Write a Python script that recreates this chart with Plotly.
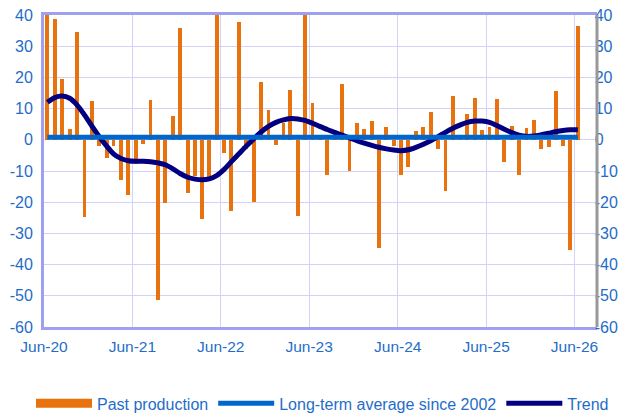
import pandas as pd
import plotly.graph_objects as go

# ---------------- data ----------------
START = "2020-06-01"
past_production = [
    45, 38.7, 19.6, 3.5, 34.6, -24.8, 12.3, -2.1, -5.8, -2.1, -13, -17.6,
    -7.7, -1.5, 12.7, -51.2, -20.1, 7.6, 35.7, -17.1, -11.5, -25.4, -12, 45,
    -4.2, -22.8, 37.6, -3, -19.8, 18.5, 9.7, -1.6, 5.3, 16, -24.4, 45,
    11.7, 0.8, -11.3, 2, 18, -9.9, 5.4, 3.5, 6, -34.8, 4, -2.1,
    -11.3, -8.6, 2.8, 4, 9, -3, -16.5, 14.2, 1.5, 8.3, 13.5, 3.2,
    4, 13, -7, 4.3, -11.3, 3.8, 6.5, -3, -2.4, 15.6, -2, -35.3,
    36.5,
]
trend = [
    12, 13.5, 14, 13.3, 11.2, 8, 4.5, 1, -2, -4.5, -6, -6.7,
    -6.9, -6.9, -7, -7.4, -8, -9.3, -10.8, -12, -12.6, -12.8, -12.5, -11.5,
    -9.5, -7, -4.5, -2, 0.3, 2.5, 4.3, 5.6, 6.4, 6.8, 6.7, 6.2,
    5.3, 4.3, 3.3, 2.4, 1.5, 0.6, -0.3, -1.1, -1.8, -2.4, -2.9, -3.3,
    -3.5, -3.2, -2.4, -1.4, -0.3, 1, 2.4, 3.7, 4.8, 5.6, 6, 6,
    5.6, 4.6, 3.4, 2.3, 1.5, 1.1, 1.2, 1.6, 2.1, 2.6, 3, 3.2,
    3.2,
]
LONG_TERM_AVG = 0.8
tick_labels = ["Jun-20", "Jun-21", "Jun-22", "Jun-23", "Jun-24", "Jun-25", "Jun-26"]
y_ticks = [40, 30, 20, 10, 0, -10, -20, -30, -40, -50, -60]
y_tick_labels = ["40", "30", "20", "10", "0", "-10", "-20", "-30", "-40", "-50", "-60"]

# ---------------- derived positions ----------------
months = pd.date_range(START, periods=len(past_production), freq="MS")
bar_dates = months + pd.Timedelta(days=14)
tick_dates = pd.date_range(START, periods=len(tick_labels), freq="12MS")
avg_values = [LONG_TERM_AVG] * len(bar_dates)

ORANGE = "#E8720E"
AVG_BLUE = "#0066CC"
NAVY = "#000080"
TXT = "#1F6DC8"
GRID = "#D2D2FA"
FRAME = "#A0A0F0"
FONT = "Liberation Sans, Arial, sans-serif"

fig = go.Figure()
fig.add_trace(go.Bar(
    x=bar_dates, y=past_production, name="Past production",
    marker=dict(color=ORANGE, line=dict(width=0)),
    width=16 * 86400000, showlegend=False, legendgroup="pp",
))
# legend entry for bars (wide swatch like the reference)
fig.add_trace(go.Scatter(
    x=[None], y=[None], mode="lines", name="Past production",
    line=dict(color=ORANGE, width=9), legendgroup="pp",
))
fig.add_trace(go.Scatter(
    x=bar_dates, y=avg_values, mode="lines", name="Long-term average since 2002",
    line=dict(color=AVG_BLUE, width=5), yaxis="y2",
))
fig.add_trace(go.Scatter(
    x=bar_dates, y=trend, mode="lines", name="Trend",
    line=dict(color=NAVY, width=5, shape="spline", smoothing=0.8),
))

# grey right-hand frame line
fig.add_shape(type="line", xref="paper", yref="paper", x0=1, x1=1, y0=0, y1=1,
              line=dict(color="#999999", width=3), layer="above")

axis_font = dict(family=FONT, size=16, color=TXT)
fig.update_layout(
    width=623, height=414,
    margin=dict(l=44, r=26, t=15, b=87, autoexpand=False),
    paper_bgcolor="white", plot_bgcolor="white",
    font=dict(family=FONT, color=TXT),
    bargap=0,
    xaxis=dict(
        type="date", range=["2020-06-01", "2026-09-02"],
        tickvals=tick_dates, ticktext=tick_labels,
        tickfont=dict(family=FONT, size=15.5, color=TXT),
        showgrid=True, gridcolor=GRID, gridwidth=1,
        showline=True, linecolor=FRAME, linewidth=3, mirror=True,
        ticks="", ticklabelstandoff=3, zeroline=False,
        ticklabeloverflow="allow",
    ),
    yaxis=dict(
        range=[-60, 40], tickvals=y_ticks, ticktext=y_tick_labels,
        tickfont=axis_font,
        showgrid=True, gridcolor=GRID, gridwidth=1,
        showline=True, linecolor=FRAME, linewidth=3,
        ticks="", zeroline=False, ticklabelstandoff=5,
        ticklabeloverflow="allow",
    ),
    yaxis2=dict(
        range=[-60, 40], tickvals=y_ticks, ticktext=y_tick_labels,
        tickfont=axis_font,
        overlaying="y", side="right", anchor="free", position=0.994,
        showgrid=False, showline=False,
        ticks="", zeroline=False, ticklabelstandoff=0,
        ticklabeloverflow="allow",
    ),
    legend=dict(
        orientation="h", x=-0.0235, xanchor="left", y=-0.245, yanchor="middle",
        font=dict(family=FONT, size=16, color=TXT),
        itemwidth=56, bgcolor="rgba(0,0,0,0)",
    ),
)

fig.write_html(
    "out.html",
    config={"displayModeBar": False},
    post_script="document.body.style.margin='0';document.body.style.overflow='hidden';",
)
